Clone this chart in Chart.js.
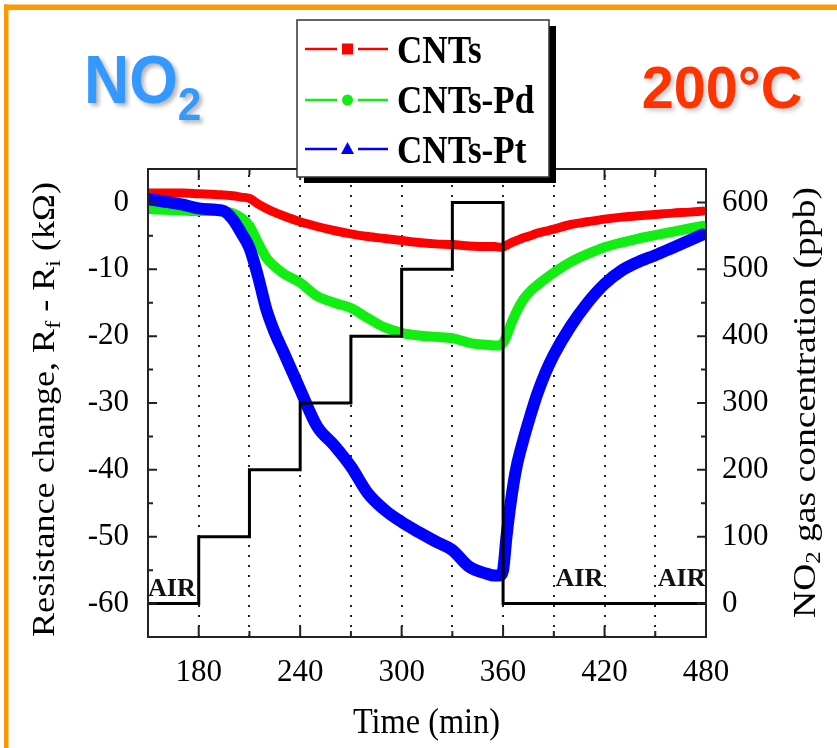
<!DOCTYPE html>
<html><head><meta charset="utf-8">
<style>html,body{margin:0;padding:0;background:#fff;} canvas{display:block;}</style>
<script src="https://cdn.jsdelivr.net/npm/chart.js@4.4.0/dist/chart.umd.min.js"></script>
</head><body>
<canvas id="c" width="837" height="748"></canvas>
<script>
// ---------- DATA ----------
const times = [150,160,170,180,190,195,200,205,210,215,220,225,230,240,250,260,270,280,290,300,310,320,330,340,350,355,358,360,362,365,368,372,376,380,385,390,400,410,420,430,440,450,460,470,478];
const cntsValues = [1.4,1.4,1.4,1.3,1.2,1.1,1.0,0.8,0.6,-0.2,-0.9,-1.5,-2.0,-2.9,-3.6,-4.2,-4.7,-5.1,-5.4,-5.7,-6.0,-6.2,-6.3,-6.5,-6.6,-6.6,-6.7,-6.7,-6.4,-6.0,-5.7,-5.3,-5.0,-4.6,-4.3,-4.0,-3.3,-2.9,-2.5,-2.2,-2.0,-1.8,-1.6,-1.45,-1.3];
const cntsPdValues = [-1.0,-1.1,-1.2,-1.3,-1.3,-1.4,-1.6,-2.3,-3.5,-6.0,-8.3,-9.6,-10.6,-12.0,-14.0,-15.0,-15.8,-17.3,-18.7,-19.5,-19.9,-20.1,-20.3,-21.0,-21.3,-21.4,-21.4,-21.0,-20.0,-18.0,-16.3,-14.5,-13.3,-12.4,-11.4,-10.5,-8.9,-7.7,-6.7,-6.0,-5.4,-4.9,-4.4,-3.9,-3.5];
const cntsPtValues = [0.5,0.1,-0.3,-0.9,-1.1,-1.3,-2.5,-4.5,-6.8,-11.0,-16.0,-19.5,-22.3,-28.0,-33.5,-36.3,-39.5,-43.5,-46.0,-47.8,-49.3,-50.7,-52.0,-54.5,-55.5,-55.8,-55.8,-55.0,-50.0,-44.0,-39.5,-35.5,-32.0,-28.8,-25.5,-22.8,-18.5,-15.0,-12.2,-10.2,-8.9,-7.9,-6.8,-5.7,-4.8];
const stepTimes = [150,180,210,240,270,300,330,360,480];
const stepConcentration = [0,100,200,300,400,500,600,0,0];
const seriesLabels = ['CNTs','CNTs-Pd','CNTs-Pt'];
const xTickValues = [180,240,300,360,420,480];
const xMinorValues = [210,270,330,390,450];
const gridTimes = [180,210,240,270,300,330,360,390,420,450];
const yTickValues = [-60,-50,-40,-30,-20,-10,0];
const yMinorValues = [-55,-45,-35,-25,-15,-5];
const y2TickValues = [0,100,200,300,400,500,600];
const y2MinorValues = [50,150,250,350,450,550];
const airLabelTimes = [150,391,451.5];
const airLabelConc = [12,26,26];
const airLabelText = 'AIR';
const gasLabel = [{t:'NO'},{t:'2',sub:true}];
const tempLabel = '200°C';
const xTitle = [{t:'Time (min)'}];
const yTitle = [{t:'Resistance change, R'},{t:'f',sub:true},{t:' - R'},{t:'i',sub:true},{t:' (kΩ)'}];
const y2Title = [{t:'NO'},{t:'2',sub:true},{t:' gas concentration (ppb)'}];

// ---------- STYLE ----------
const SERIF = '"Liberation Serif", "Times New Roman", serif';
const SANS = '"Liberation Sans", Arial, sans-serif';
const seriesColors = ['#FF0000','#11EE11','#0000FF'];
const markers = ['square','circle','triangle'];

function drawRich(ctx, parts, o){
  ctx.save();
  ctx.translate(o.x, o.y);
  if (o.rotate) ctx.rotate(o.rotate);
  const fontFor = sub => `${o.weight||'normal'} ${sub ? o.subSize : o.size}px ${o.family}`;
  let total = 0; const w = [];
  parts.forEach(p => { ctx.font = fontFor(p.sub); const m = ctx.measureText(p.t).width; w.push(m); total += m; });
  const sc = o.length ? o.length/total : (o.scale||1);
  ctx.scale(sc, 1);
  ctx.fillStyle = o.color || '#000';
  if (o.shadow){ ctx.shadowColor = o.shadow; ctx.shadowBlur = 4; ctx.shadowOffsetX = 3; ctx.shadowOffsetY = 3; }
  ctx.textBaseline = 'alphabetic';
  ctx.textAlign = 'left';
  let cx = o.align === 'center' ? -total/2 : 0;
  parts.forEach((p,i) => { ctx.font = fontFor(p.sub); ctx.fillText(p.t, cx, p.sub ? o.subDy : 0); cx += w[i]; });
  ctx.restore();
}

const framePlugin = {
  id:'frame',
  beforeDraw(chart){
    const ctx = chart.ctx;
    ctx.save();
    ctx.fillStyle = '#fff'; ctx.fillRect(0,0,chart.width,chart.height);
    ctx.fillStyle = '#FF9900';
    ctx.fillRect(4,4.5,chart.width-4,5.5);
    ctx.fillRect(4,4.5,4.5,chart.height-4);
    ctx.restore();
  },
  beforeDatasetsDraw(chart){
    const ctx = chart.ctx, a = chart.chartArea, xs = chart.scales.x;
    ctx.save();
    ctx.strokeStyle = '#222'; ctx.lineWidth = 2; ctx.setLineDash([2,8]);
    gridTimes.forEach(t => {
      const px = Math.round(xs.getPixelForValue(t));
      ctx.beginPath(); ctx.moveTo(px, a.top+6); ctx.lineTo(px, a.bottom); ctx.stroke();
    });
    ctx.restore();
  },
  afterDatasetsDraw(chart){
    const ctx = chart.ctx, a = chart.chartArea, xs = chart.scales.x, ys = chart.scales.y, y2 = chart.scales.y2;
    ctx.save();
    ctx.strokeStyle = '#222'; ctx.lineWidth = 2; ctx.setLineDash([]);
    ctx.strokeRect(a.left, a.top, a.right-a.left, a.bottom-a.top);
    ctx.beginPath();
    const xt = (vals, len) => vals.forEach(v => { const p = xs.getPixelForValue(v);
      ctx.moveTo(p, a.bottom); ctx.lineTo(p, a.bottom-len); ctx.moveTo(p, a.top); ctx.lineTo(p, a.top+len); });
    xt(xTickValues, 11); xt(xMinorValues, 6);
    const yt = (vals, len) => vals.forEach(v => { const p = ys.getPixelForValue(v); ctx.moveTo(a.left,p); ctx.lineTo(a.left+len,p); });
    yt(yTickValues, 9); yt(yMinorValues, 5);
    const y2t = (vals, len) => vals.forEach(v => { const p = y2.getPixelForValue(v); ctx.moveTo(a.right,p); ctx.lineTo(a.right-len,p); });
    y2t(y2TickValues, 9); y2t(y2MinorValues, 5);
    ctx.stroke();
    ctx.fillStyle = '#111'; ctx.font = `bold 26px ${SERIF}`; ctx.textBaseline = 'alphabetic'; ctx.textAlign = 'left';
    airLabelTimes.forEach((t,i) => ctx.fillText(airLabelText, xs.getPixelForValue(t), y2.getPixelForValue(airLabelConc[i])));
    const L = {x:297, y:20, w:252, h:157};
    ctx.fillStyle = '#000'; ctx.fillRect(L.x+7, L.y+6, L.w, L.h);
    ctx.fillStyle = '#fff'; ctx.fillRect(L.x, L.y, L.w, L.h);
    ctx.strokeStyle = '#333'; ctx.lineWidth = 1.5; ctx.strokeRect(L.x, L.y, L.w, L.h);
    const rows = [49,100,149], base = [63,113,163];
    seriesLabels.forEach((lab,i) => {
      const c = seriesColors[i], yy = rows[i];
      ctx.strokeStyle = c; ctx.lineWidth = 2.5;
      ctx.beginPath(); ctx.moveTo(305,yy); ctx.lineTo(337,yy); ctx.moveTo(358,yy); ctx.lineTo(388,yy); ctx.stroke();
      ctx.fillStyle = c; ctx.beginPath();
      if (markers[i]==='square') ctx.rect(342,yy-5.5,11,11);
      else if (markers[i]==='circle') ctx.arc(347.5,yy,5.5,0,Math.PI*2);
      else { ctx.moveTo(347.5,yy-7); ctx.lineTo(354,yy+5); ctx.lineTo(341,yy+5); ctx.closePath(); }
      ctx.fill();
      drawRich(ctx, [{t:lab}], {x:397, y:base[i], size:39, family:SERIF, weight:'bold', scale:0.9, color:'#000'});
    });
    ctx.restore();
    drawRich(ctx, gasLabel, {x:84, y:102.7, size:68, subSize:46, subDy:17, family:SANS, weight:'bold', scale:0.92, color:'#3399FF', shadow:'rgba(0,0,0,0.30)'});
    drawRich(ctx, [{t:tempLabel}], {x:641.7, y:108.3, size:60, family:SANS, weight:'bold', scale:0.96, color:'#FF3300', shadow:'rgba(0,0,0,0.20)'});
    drawRich(ctx, xTitle, {x:426.5, y:733, size:35, family:SERIF, length:147, align:'center'});
    drawRich(ctx, yTitle, {x:53.5, y:409.5, rotate:-Math.PI/2, size:32, subSize:21, subDy:6, family:SERIF, length:455, align:'center'});
    drawRich(ctx, y2Title, {x:815, y:402.5, rotate:-Math.PI/2, size:32, subSize:21, subDy:5, family:SERIF, length:431, align:'center'});
  }
};

const pts = (xs, ys) => xs.map((t,i) => ({x:t, y:ys[i]}));
const tickFont = {family:SERIF, size:31};

new Chart(document.getElementById('c'), {
  type:'line',
  data:{ datasets:[
    {label:'NO2 concentration', data:pts(stepTimes, stepConcentration), yAxisID:'y2', borderColor:'#000', borderWidth:3, stepped:'before', pointRadius:0, order:0},
    {label:seriesLabels[2], data:pts(times, cntsPtValues), yAxisID:'y', borderColor:seriesColors[2], borderWidth:12, pointRadius:0, cubicInterpolationMode:'monotone', borderJoinStyle:'round', borderCapStyle:'round', order:1},
    {label:seriesLabels[0], data:pts(times, cntsValues), yAxisID:'y', borderColor:seriesColors[0], borderWidth:9, pointRadius:0, cubicInterpolationMode:'monotone', borderJoinStyle:'round', borderCapStyle:'round', order:2},
    {label:seriesLabels[1], data:pts(times, cntsPdValues), yAxisID:'y', borderColor:seriesColors[1], borderWidth:10, pointRadius:0, cubicInterpolationMode:'monotone', borderJoinStyle:'round', borderCapStyle:'round', order:3}
  ]},
  options:{
    responsive:false, animation:false, devicePixelRatio:1, events:[],
    layout:{padding:{top:169,left:0,right:0,bottom:0}},
    plugins:{legend:{display:false}, tooltip:{enabled:false}, title:{display:false}},
    scales:{
      x:{type:'linear', min:150, max:480, position:'bottom',
         afterBuildTicks:s=>{s.ticks = xTickValues.map(v=>({value:v}));},
         afterFit:s=>{s.height = 111;},
         grid:{display:false}, border:{display:false},
         ticks:{font:tickFont, color:'#000', padding:9, maxRotation:0, autoSkip:false}},
      y:{type:'linear', min:-65, max:5, position:'left',
         afterBuildTicks:s=>{s.ticks = yTickValues.map(v=>({value:v}));},
         afterFit:s=>{s.width = 148;},
         grid:{display:false}, border:{display:false},
         ticks:{font:tickFont, color:'#000', padding:11, autoSkip:false}},
      y2:{type:'linear', min:-50, max:650, position:'right',
         afterBuildTicks:s=>{s.ticks = y2TickValues.map(v=>({value:v}));},
         afterFit:s=>{s.width = 131;},
         grid:{display:false}, border:{display:false},
         ticks:{font:tickFont, color:'#000', padding:8, autoSkip:false}}
    }
  },
  plugins:[framePlugin]
});
</script>
</body></html>
